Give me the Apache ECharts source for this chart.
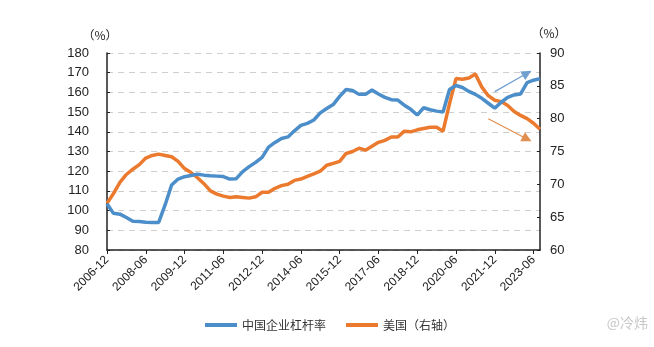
<!DOCTYPE html>
<html>
<head>
<meta charset="utf-8">
<script src="https://cdn.jsdelivr.net/npm/echarts@6/dist/echarts.min.js"></script>
<style>
  html, body { margin: 0; padding: 0; background: #fff; }
  #chart { width: 654px; height: 347px; }
</style>
</head>
<body>
<div id="chart"></div>
<script>
// Quarterly periods, 2006-12 .. 2023-09
const categories = [
  '2006-12',
  '2007-03','2007-06','2007-09','2007-12',
  '2008-03','2008-06','2008-09','2008-12',
  '2009-03','2009-06','2009-09','2009-12',
  '2010-03','2010-06','2010-09','2010-12',
  '2011-03','2011-06','2011-09','2011-12',
  '2012-03','2012-06','2012-09','2012-12',
  '2013-03','2013-06','2013-09','2013-12',
  '2014-03','2014-06','2014-09','2014-12',
  '2015-03','2015-06','2015-09','2015-12',
  '2016-03','2016-06','2016-09','2016-12',
  '2017-03','2017-06','2017-09','2017-12',
  '2018-03','2018-06','2018-09','2018-12',
  '2019-03','2019-06','2019-09','2019-12',
  '2020-03','2020-06','2020-09','2020-12',
  '2021-03','2021-06','2021-09','2021-12',
  '2022-03','2022-06','2022-09','2022-12',
  '2023-03','2023-06','2023-09'
];

// China non-financial corporate leverage (%), left axis
const chinaLeverage = [
  103.5, 98.6, 98.2, 96.5, 94.6, 94.5, 94.1, 94.0, 94.0, 103.0,
  113.0, 116.0, 117.2, 117.8, 118.5, 118.0, 117.7, 117.5, 117.3, 116.0,
  116.2, 119.8, 122.3, 124.5, 127.0, 132.2, 134.6, 136.6, 137.4, 140.5,
  143.3, 144.3, 146.0, 149.6, 151.8, 153.8, 158.0, 161.5, 161.0, 159.0,
  159.0, 161.2, 159.2, 157.5, 156.3, 156.1, 153.5, 151.4, 148.5, 152.2,
  151.2, 150.5, 150.0, 161.5, 163.5, 162.5, 160.5, 159.0, 157.0, 154.5,
  152.0, 155.0, 157.5, 158.7, 159.2, 165.0, 166.2, 167.0
];

// United States non-financial corporate leverage (%), right axis
const usLeverage = [
  67.1, 68.6, 70.3, 71.5, 72.3, 73.0, 74.0, 74.4, 74.6, 74.4,
  74.2, 73.5, 72.4, 71.8, 71.0, 70.1, 69.0, 68.5, 68.2, 68.0,
  68.1, 68.0, 67.9, 68.1, 68.8, 68.8, 69.4, 69.8, 70.0, 70.6,
  70.8, 71.2, 71.6, 72.0, 72.9, 73.2, 73.5, 74.7, 75.0, 75.5,
  75.2, 75.8, 76.4, 76.7, 77.2, 77.2, 78.1, 78.0, 78.3, 78.5,
  78.7, 78.7, 78.1, 82.3, 86.1, 86.0, 86.2, 86.8, 84.8, 83.5,
  82.8, 82.6, 82.0, 81.1, 80.5, 80.0, 79.3, 78.4
];

// Left axis ticks 80..180, right axis ticks 60..90
const leftAxis = { min: 80, max: 180, interval: 10 };
const rightAxis = { min: 60, max: 90, interval: 5 };

// Trend arrows: [startCategory, startValue, endCategory, endValue]
const chinaTrend = ['2021-12', 160.4, '2023-03', 169.7];
const usTrend = ['2021-09', 80.0, '2023-03', 76.9];

const seriesNames = ['中国企业杠杆率', '美国（右轴）'];
const BLUE = '#4b8ec9';
const ORANGE = '#eb7a2e';
const axisFont = { fontFamily: 'Liberation Sans, Arial, sans-serif', fontSize: 13, color: '#222' };

const chart = echarts.init(document.getElementById('chart'), null, { renderer: 'canvas' });

function trendLine(t, color) {
  return {
    silent: true,
    symbol: ['none', 'triangle'],
    symbolSize: 10,
    label: { show: false },
    emphasis: { disabled: true },
    lineStyle: { color: color, width: 1.2, type: 'solid' },
    data: [[{ coord: [t[0], t[1]] }, { coord: [t[2], t[3]] }]]
  };
}

chart.setOption({
  animation: false,
  backgroundColor: '#fff',
  grid: { left: 107, right: 114, top: 53, bottom: 97 },
  legend: {
    left: 200,
    top: 314,
    itemGap: 20,
    itemWidth: 32,
    itemHeight: 4,
    icon: 'rect',
    textStyle: { fontFamily: 'Noto Sans CJK SC', fontSize: 12, color: '#333' },
    data: seriesNames
  },
  xAxis: {
    type: 'category',
    data: categories,
    boundaryGap: false,
    axisLine: { lineStyle: { color: '#222', width: 1.5 } },
    axisTick: { interval: 5, length: 4, lineStyle: { color: '#222' } },
    axisLabel: {
      interval: 5,
      rotate: 45,
      margin: 8,
      fontFamily: axisFont.fontFamily,
      fontSize: 12,
      color: '#222'
    },
    splitLine: { show: false }
  },
  yAxis: [
    {
      type: 'value',
      position: 'left',
      min: leftAxis.min,
      max: leftAxis.max,
      interval: leftAxis.interval,
      name: '（%）',
      nameLocation: 'end',
      nameGap: 12,
      nameTextStyle: { fontFamily: 'Noto Sans CJK SC', fontSize: 12, color: '#222', align: 'center', padding: [0, 14, 0, 0] },
      axisLine: { show: true, lineStyle: { color: '#222', width: 1.5 } },
      axisTick: { show: true, inside: true, length: 3, lineStyle: { color: '#222' } },
      axisLabel: Object.assign({ margin: 18 }, axisFont),
      splitLine: { show: true, lineStyle: { color: '#cfcfcf', type: [6, 5], width: 1 } }
    },
    {
      type: 'value',
      position: 'right',
      min: rightAxis.min,
      max: rightAxis.max,
      interval: rightAxis.interval,
      name: '（%）',
      nameLocation: 'end',
      nameGap: 14,
      nameTextStyle: { fontFamily: 'Noto Sans CJK SC', fontSize: 12, color: '#222', align: 'center', padding: [0, 0, 0, 18] },
      axisLine: { show: true, lineStyle: { color: '#222', width: 1.5 } },
      axisTick: { show: true, inside: true, length: 3, lineStyle: { color: '#222' } },
      axisLabel: Object.assign({ margin: 10 }, axisFont),
      splitLine: { show: false }
    }
  ],
  series: [
    {
      name: seriesNames[0],
      type: 'line',
      yAxisIndex: 0,
      data: chinaLeverage,
      showSymbol: false,
      symbol: 'none',
      lineStyle: { color: BLUE, width: 3.5 },
      itemStyle: { color: BLUE },
      z: 3,
      markLine: trendLine(chinaTrend, '#6f9fcf')
    },
    {
      name: seriesNames[1],
      type: 'line',
      yAxisIndex: 1,
      data: usLeverage,
      showSymbol: false,
      symbol: 'none',
      lineStyle: { color: ORANGE, width: 3.5 },
      itemStyle: { color: ORANGE },
      z: 2,
      markLine: trendLine(usTrend, '#e08f50')
    }
  ],
  graphic: [
    {
      type: 'text',
      right: 6,
      top: 316,
      style: {
        text: '@冷炜',
        font: '14px "Noto Sans CJK SC"',
        fill: '#c8c8c8'
      }
    }
  ]
});
</script>
</body>
</html>
